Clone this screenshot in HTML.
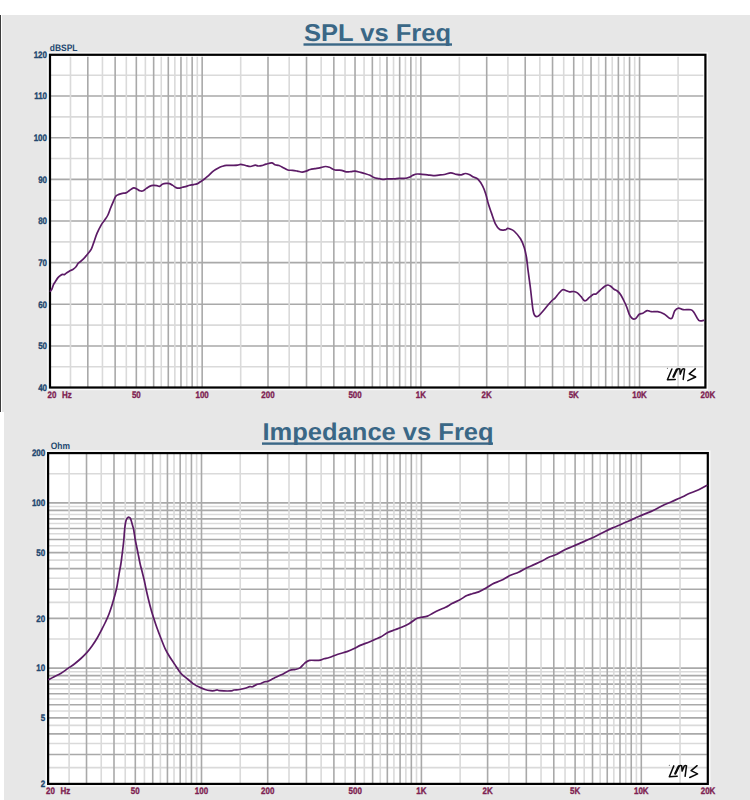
<!DOCTYPE html>
<html><head><meta charset="utf-8">
<style>
html,body{margin:0;padding:0;background:#fff;}
body{width:750px;height:800px;position:relative;overflow:hidden;font-family:"Liberation Sans",sans-serif;}
.bg1{position:absolute;left:2px;top:15px;width:748px;height:397px;background:#e7e7e7;}
.bl{position:absolute;left:0;top:15px;width:1.2px;height:397px;background:#3d3d3d;}
.bg2{position:absolute;left:4px;top:412px;width:746px;height:388px;background:#e7e7e7;}
svg{position:absolute;left:0;top:0;}
.t{font-family:"Liberation Sans",sans-serif;font-weight:bold;text-rendering:geometricPrecision;}
</style></head><body>
<div class="bg1"></div><div class="bl"></div><div class="bg2"></div>
<svg width="750" height="800" viewBox="0 0 750 800">
<rect x="48" y="52.8" width="659.4" height="336.7" fill="none" stroke="#fafafa" stroke-width="1.3"/>
<rect x="50" y="54.8" width="655.4" height="332.7" fill="#fff"/>
<line x1="50" x2="703.4" y1="366.77" y2="366.77" stroke="#dadada" stroke-width="1.6"/>
<line x1="50" x2="703.4" y1="345.95" y2="345.95" stroke="#a9a9a9" stroke-width="1.6"/>
<line x1="50" x2="703.4" y1="325.12" y2="325.12" stroke="#dadada" stroke-width="1.6"/>
<line x1="50" x2="703.4" y1="304.3" y2="304.3" stroke="#a9a9a9" stroke-width="1.6"/>
<line x1="50" x2="703.4" y1="283.47" y2="283.47" stroke="#dadada" stroke-width="1.6"/>
<line x1="50" x2="703.4" y1="262.65" y2="262.65" stroke="#a9a9a9" stroke-width="1.6"/>
<line x1="50" x2="703.4" y1="241.83" y2="241.83" stroke="#dadada" stroke-width="1.6"/>
<line x1="50" x2="703.4" y1="221" y2="221" stroke="#a9a9a9" stroke-width="1.6"/>
<line x1="50" x2="703.4" y1="200.18" y2="200.18" stroke="#dadada" stroke-width="1.6"/>
<line x1="50" x2="703.4" y1="179.35" y2="179.35" stroke="#a9a9a9" stroke-width="1.6"/>
<line x1="50" x2="703.4" y1="158.53" y2="158.53" stroke="#dadada" stroke-width="1.6"/>
<line x1="50" x2="703.4" y1="137.7" y2="137.7" stroke="#a9a9a9" stroke-width="1.6"/>
<line x1="50" x2="703.4" y1="116.88" y2="116.88" stroke="#dadada" stroke-width="1.6"/>
<line x1="50" x2="703.4" y1="96.05" y2="96.05" stroke="#a9a9a9" stroke-width="1.6"/>
<line x1="50" x2="703.4" y1="75.22" y2="75.22" stroke="#dadada" stroke-width="1.6"/>
<line x1="70.49" x2="70.49" y1="56.8" y2="387.5" stroke="#dadada" stroke-width="1.6"/>
<line x1="102.45" x2="102.45" y1="56.8" y2="387.5" stroke="#dadada" stroke-width="1.6"/>
<line x1="126.32" x2="126.32" y1="56.8" y2="387.5" stroke="#dadada" stroke-width="1.6"/>
<line x1="145.38" x2="145.38" y1="56.8" y2="387.5" stroke="#dadada" stroke-width="1.6"/>
<line x1="161.25" x2="161.25" y1="56.8" y2="387.5" stroke="#dadada" stroke-width="1.6"/>
<line x1="174.84" x2="174.84" y1="56.8" y2="387.5" stroke="#dadada" stroke-width="1.6"/>
<line x1="186.73" x2="186.73" y1="56.8" y2="387.5" stroke="#dadada" stroke-width="1.6"/>
<line x1="197.29" x2="197.29" y1="56.8" y2="387.5" stroke="#dadada" stroke-width="1.6"/>
<line x1="240.68" x2="240.68" y1="56.8" y2="387.5" stroke="#dadada" stroke-width="1.6"/>
<line x1="289.19" x2="289.19" y1="56.8" y2="387.5" stroke="#dadada" stroke-width="1.6"/>
<line x1="321.15" x2="321.15" y1="56.8" y2="387.5" stroke="#dadada" stroke-width="1.6"/>
<line x1="345.02" x2="345.02" y1="56.8" y2="387.5" stroke="#dadada" stroke-width="1.6"/>
<line x1="364.08" x2="364.08" y1="56.8" y2="387.5" stroke="#dadada" stroke-width="1.6"/>
<line x1="379.95" x2="379.95" y1="56.8" y2="387.5" stroke="#dadada" stroke-width="1.6"/>
<line x1="393.54" x2="393.54" y1="56.8" y2="387.5" stroke="#dadada" stroke-width="1.6"/>
<line x1="405.43" x2="405.43" y1="56.8" y2="387.5" stroke="#dadada" stroke-width="1.6"/>
<line x1="415.99" x2="415.99" y1="56.8" y2="387.5" stroke="#dadada" stroke-width="1.6"/>
<line x1="459.38" x2="459.38" y1="56.8" y2="387.5" stroke="#dadada" stroke-width="1.6"/>
<line x1="507.89" x2="507.89" y1="56.8" y2="387.5" stroke="#dadada" stroke-width="1.6"/>
<line x1="539.85" x2="539.85" y1="56.8" y2="387.5" stroke="#dadada" stroke-width="1.6"/>
<line x1="563.72" x2="563.72" y1="56.8" y2="387.5" stroke="#dadada" stroke-width="1.6"/>
<line x1="582.78" x2="582.78" y1="56.8" y2="387.5" stroke="#dadada" stroke-width="1.6"/>
<line x1="598.65" x2="598.65" y1="56.8" y2="387.5" stroke="#dadada" stroke-width="1.6"/>
<line x1="612.24" x2="612.24" y1="56.8" y2="387.5" stroke="#dadada" stroke-width="1.6"/>
<line x1="624.13" x2="624.13" y1="56.8" y2="387.5" stroke="#dadada" stroke-width="1.6"/>
<line x1="634.69" x2="634.69" y1="56.8" y2="387.5" stroke="#dadada" stroke-width="1.6"/>
<line x1="678.08" x2="678.08" y1="56.8" y2="387.5" stroke="#dadada" stroke-width="1.6"/>
<line x1="87.81" x2="87.81" y1="56.8" y2="387.5" stroke="#a9a9a9" stroke-width="1.6"/>
<line x1="115.14" x2="115.14" y1="56.8" y2="387.5" stroke="#a9a9a9" stroke-width="1.6"/>
<line x1="136.33" x2="136.33" y1="56.8" y2="387.5" stroke="#a9a9a9" stroke-width="1.6"/>
<line x1="153.65" x2="153.65" y1="56.8" y2="387.5" stroke="#a9a9a9" stroke-width="1.6"/>
<line x1="168.29" x2="168.29" y1="56.8" y2="387.5" stroke="#a9a9a9" stroke-width="1.6"/>
<line x1="180.97" x2="180.97" y1="56.8" y2="387.5" stroke="#a9a9a9" stroke-width="1.6"/>
<line x1="192.16" x2="192.16" y1="56.8" y2="387.5" stroke="#a9a9a9" stroke-width="1.6"/>
<line x1="202.16" x2="202.16" y1="56.8" y2="387.5" stroke="#a9a9a9" stroke-width="1.6"/>
<line x1="268" x2="268" y1="56.8" y2="387.5" stroke="#a9a9a9" stroke-width="1.6"/>
<line x1="306.51" x2="306.51" y1="56.8" y2="387.5" stroke="#a9a9a9" stroke-width="1.6"/>
<line x1="333.84" x2="333.84" y1="56.8" y2="387.5" stroke="#a9a9a9" stroke-width="1.6"/>
<line x1="355.03" x2="355.03" y1="56.8" y2="387.5" stroke="#a9a9a9" stroke-width="1.6"/>
<line x1="372.35" x2="372.35" y1="56.8" y2="387.5" stroke="#a9a9a9" stroke-width="1.6"/>
<line x1="386.99" x2="386.99" y1="56.8" y2="387.5" stroke="#a9a9a9" stroke-width="1.6"/>
<line x1="399.67" x2="399.67" y1="56.8" y2="387.5" stroke="#a9a9a9" stroke-width="1.6"/>
<line x1="410.86" x2="410.86" y1="56.8" y2="387.5" stroke="#a9a9a9" stroke-width="1.6"/>
<line x1="420.86" x2="420.86" y1="56.8" y2="387.5" stroke="#a9a9a9" stroke-width="1.6"/>
<line x1="486.7" x2="486.7" y1="56.8" y2="387.5" stroke="#a9a9a9" stroke-width="1.6"/>
<line x1="525.21" x2="525.21" y1="56.8" y2="387.5" stroke="#a9a9a9" stroke-width="1.6"/>
<line x1="552.54" x2="552.54" y1="56.8" y2="387.5" stroke="#a9a9a9" stroke-width="1.6"/>
<line x1="573.73" x2="573.73" y1="56.8" y2="387.5" stroke="#a9a9a9" stroke-width="1.6"/>
<line x1="591.05" x2="591.05" y1="56.8" y2="387.5" stroke="#a9a9a9" stroke-width="1.6"/>
<line x1="605.69" x2="605.69" y1="56.8" y2="387.5" stroke="#a9a9a9" stroke-width="1.6"/>
<line x1="618.37" x2="618.37" y1="56.8" y2="387.5" stroke="#a9a9a9" stroke-width="1.6"/>
<line x1="629.56" x2="629.56" y1="56.8" y2="387.5" stroke="#a9a9a9" stroke-width="1.6"/>
<line x1="639.56" x2="639.56" y1="56.8" y2="387.5" stroke="#a9a9a9" stroke-width="1.6"/>
<rect x="50" y="54.8" width="655.4" height="332.7" fill="none" stroke="#000" stroke-width="2.2"/>
<rect x="46.1" y="451.1" width="663.6999999999999" height="334.79999999999995" fill="none" stroke="#fafafa" stroke-width="1.3"/>
<rect x="48.1" y="453.1" width="659.6999999999999" height="330.79999999999995" fill="#fff"/>
<line x1="48.1" x2="706.8" y1="767.59" y2="767.59" stroke="#dadada" stroke-width="1.6"/>
<line x1="48.1" x2="706.8" y1="743.44" y2="743.44" stroke="#dadada" stroke-width="1.6"/>
<line x1="48.1" x2="706.8" y1="725.4" y2="725.4" stroke="#dadada" stroke-width="1.6"/>
<line x1="48.1" x2="706.8" y1="711" y2="711" stroke="#dadada" stroke-width="1.6"/>
<line x1="48.1" x2="706.8" y1="699.01" y2="699.01" stroke="#dadada" stroke-width="1.6"/>
<line x1="48.1" x2="706.8" y1="688.74" y2="688.74" stroke="#dadada" stroke-width="1.6"/>
<line x1="48.1" x2="706.8" y1="679.76" y2="679.76" stroke="#dadada" stroke-width="1.6"/>
<line x1="48.1" x2="706.8" y1="671.78" y2="671.78" stroke="#dadada" stroke-width="1.6"/>
<line x1="48.1" x2="706.8" y1="639" y2="639" stroke="#dadada" stroke-width="1.6"/>
<line x1="48.1" x2="706.8" y1="602.34" y2="602.34" stroke="#dadada" stroke-width="1.6"/>
<line x1="48.1" x2="706.8" y1="578.19" y2="578.19" stroke="#dadada" stroke-width="1.6"/>
<line x1="48.1" x2="706.8" y1="560.15" y2="560.15" stroke="#dadada" stroke-width="1.6"/>
<line x1="48.1" x2="706.8" y1="545.75" y2="545.75" stroke="#dadada" stroke-width="1.6"/>
<line x1="48.1" x2="706.8" y1="533.76" y2="533.76" stroke="#dadada" stroke-width="1.6"/>
<line x1="48.1" x2="706.8" y1="523.49" y2="523.49" stroke="#dadada" stroke-width="1.6"/>
<line x1="48.1" x2="706.8" y1="514.51" y2="514.51" stroke="#dadada" stroke-width="1.6"/>
<line x1="48.1" x2="706.8" y1="506.53" y2="506.53" stroke="#dadada" stroke-width="1.6"/>
<line x1="48.1" x2="706.8" y1="473.75" y2="473.75" stroke="#dadada" stroke-width="1.6"/>
<line x1="48.1" x2="706.8" y1="754.5" y2="754.5" stroke="#a9a9a9" stroke-width="1.6"/>
<line x1="48.1" x2="706.8" y1="733.85" y2="733.85" stroke="#a9a9a9" stroke-width="1.6"/>
<line x1="48.1" x2="706.8" y1="717.84" y2="717.84" stroke="#a9a9a9" stroke-width="1.6"/>
<line x1="48.1" x2="706.8" y1="704.76" y2="704.76" stroke="#a9a9a9" stroke-width="1.6"/>
<line x1="48.1" x2="706.8" y1="693.69" y2="693.69" stroke="#a9a9a9" stroke-width="1.6"/>
<line x1="48.1" x2="706.8" y1="684.11" y2="684.11" stroke="#a9a9a9" stroke-width="1.6"/>
<line x1="48.1" x2="706.8" y1="675.66" y2="675.66" stroke="#a9a9a9" stroke-width="1.6"/>
<line x1="48.1" x2="706.8" y1="668.1" y2="668.1" stroke="#a9a9a9" stroke-width="1.6"/>
<line x1="48.1" x2="706.8" y1="618.35" y2="618.35" stroke="#a9a9a9" stroke-width="1.6"/>
<line x1="48.1" x2="706.8" y1="589.25" y2="589.25" stroke="#a9a9a9" stroke-width="1.6"/>
<line x1="48.1" x2="706.8" y1="568.6" y2="568.6" stroke="#a9a9a9" stroke-width="1.6"/>
<line x1="48.1" x2="706.8" y1="552.59" y2="552.59" stroke="#a9a9a9" stroke-width="1.6"/>
<line x1="48.1" x2="706.8" y1="539.51" y2="539.51" stroke="#a9a9a9" stroke-width="1.6"/>
<line x1="48.1" x2="706.8" y1="528.44" y2="528.44" stroke="#a9a9a9" stroke-width="1.6"/>
<line x1="48.1" x2="706.8" y1="518.86" y2="518.86" stroke="#a9a9a9" stroke-width="1.6"/>
<line x1="48.1" x2="706.8" y1="510.41" y2="510.41" stroke="#a9a9a9" stroke-width="1.6"/>
<line x1="48.1" x2="706.8" y1="502.85" y2="502.85" stroke="#a9a9a9" stroke-width="1.6"/>
<line x1="69.11" x2="69.11" y1="454.1" y2="783.9" stroke="#dadada" stroke-width="1.6"/>
<line x1="101.24" x2="101.24" y1="454.1" y2="783.9" stroke="#dadada" stroke-width="1.6"/>
<line x1="125.24" x2="125.24" y1="454.1" y2="783.9" stroke="#dadada" stroke-width="1.6"/>
<line x1="144.41" x2="144.41" y1="454.1" y2="783.9" stroke="#dadada" stroke-width="1.6"/>
<line x1="160.36" x2="160.36" y1="454.1" y2="783.9" stroke="#dadada" stroke-width="1.6"/>
<line x1="174.03" x2="174.03" y1="454.1" y2="783.9" stroke="#dadada" stroke-width="1.6"/>
<line x1="185.98" x2="185.98" y1="454.1" y2="783.9" stroke="#dadada" stroke-width="1.6"/>
<line x1="196.6" x2="196.6" y1="454.1" y2="783.9" stroke="#dadada" stroke-width="1.6"/>
<line x1="240.23" x2="240.23" y1="454.1" y2="783.9" stroke="#dadada" stroke-width="1.6"/>
<line x1="289.01" x2="289.01" y1="454.1" y2="783.9" stroke="#dadada" stroke-width="1.6"/>
<line x1="321.14" x2="321.14" y1="454.1" y2="783.9" stroke="#dadada" stroke-width="1.6"/>
<line x1="345.14" x2="345.14" y1="454.1" y2="783.9" stroke="#dadada" stroke-width="1.6"/>
<line x1="364.31" x2="364.31" y1="454.1" y2="783.9" stroke="#dadada" stroke-width="1.6"/>
<line x1="380.26" x2="380.26" y1="454.1" y2="783.9" stroke="#dadada" stroke-width="1.6"/>
<line x1="393.93" x2="393.93" y1="454.1" y2="783.9" stroke="#dadada" stroke-width="1.6"/>
<line x1="405.88" x2="405.88" y1="454.1" y2="783.9" stroke="#dadada" stroke-width="1.6"/>
<line x1="416.5" x2="416.5" y1="454.1" y2="783.9" stroke="#dadada" stroke-width="1.6"/>
<line x1="460.13" x2="460.13" y1="454.1" y2="783.9" stroke="#dadada" stroke-width="1.6"/>
<line x1="508.91" x2="508.91" y1="454.1" y2="783.9" stroke="#dadada" stroke-width="1.6"/>
<line x1="541.04" x2="541.04" y1="454.1" y2="783.9" stroke="#dadada" stroke-width="1.6"/>
<line x1="565.04" x2="565.04" y1="454.1" y2="783.9" stroke="#dadada" stroke-width="1.6"/>
<line x1="584.21" x2="584.21" y1="454.1" y2="783.9" stroke="#dadada" stroke-width="1.6"/>
<line x1="600.16" x2="600.16" y1="454.1" y2="783.9" stroke="#dadada" stroke-width="1.6"/>
<line x1="613.83" x2="613.83" y1="454.1" y2="783.9" stroke="#dadada" stroke-width="1.6"/>
<line x1="625.78" x2="625.78" y1="454.1" y2="783.9" stroke="#dadada" stroke-width="1.6"/>
<line x1="636.4" x2="636.4" y1="454.1" y2="783.9" stroke="#dadada" stroke-width="1.6"/>
<line x1="680.03" x2="680.03" y1="454.1" y2="783.9" stroke="#dadada" stroke-width="1.6"/>
<line x1="86.52" x2="86.52" y1="454.1" y2="783.9" stroke="#a9a9a9" stroke-width="1.6"/>
<line x1="114" x2="114" y1="454.1" y2="783.9" stroke="#a9a9a9" stroke-width="1.6"/>
<line x1="135.31" x2="135.31" y1="454.1" y2="783.9" stroke="#a9a9a9" stroke-width="1.6"/>
<line x1="152.72" x2="152.72" y1="454.1" y2="783.9" stroke="#a9a9a9" stroke-width="1.6"/>
<line x1="167.44" x2="167.44" y1="454.1" y2="783.9" stroke="#a9a9a9" stroke-width="1.6"/>
<line x1="180.19" x2="180.19" y1="454.1" y2="783.9" stroke="#a9a9a9" stroke-width="1.6"/>
<line x1="191.44" x2="191.44" y1="454.1" y2="783.9" stroke="#a9a9a9" stroke-width="1.6"/>
<line x1="201.5" x2="201.5" y1="454.1" y2="783.9" stroke="#a9a9a9" stroke-width="1.6"/>
<line x1="267.7" x2="267.7" y1="454.1" y2="783.9" stroke="#a9a9a9" stroke-width="1.6"/>
<line x1="306.42" x2="306.42" y1="454.1" y2="783.9" stroke="#a9a9a9" stroke-width="1.6"/>
<line x1="333.9" x2="333.9" y1="454.1" y2="783.9" stroke="#a9a9a9" stroke-width="1.6"/>
<line x1="355.21" x2="355.21" y1="454.1" y2="783.9" stroke="#a9a9a9" stroke-width="1.6"/>
<line x1="372.62" x2="372.62" y1="454.1" y2="783.9" stroke="#a9a9a9" stroke-width="1.6"/>
<line x1="387.34" x2="387.34" y1="454.1" y2="783.9" stroke="#a9a9a9" stroke-width="1.6"/>
<line x1="400.09" x2="400.09" y1="454.1" y2="783.9" stroke="#a9a9a9" stroke-width="1.6"/>
<line x1="411.34" x2="411.34" y1="454.1" y2="783.9" stroke="#a9a9a9" stroke-width="1.6"/>
<line x1="421.4" x2="421.4" y1="454.1" y2="783.9" stroke="#a9a9a9" stroke-width="1.6"/>
<line x1="487.6" x2="487.6" y1="454.1" y2="783.9" stroke="#a9a9a9" stroke-width="1.6"/>
<line x1="526.32" x2="526.32" y1="454.1" y2="783.9" stroke="#a9a9a9" stroke-width="1.6"/>
<line x1="553.8" x2="553.8" y1="454.1" y2="783.9" stroke="#a9a9a9" stroke-width="1.6"/>
<line x1="575.11" x2="575.11" y1="454.1" y2="783.9" stroke="#a9a9a9" stroke-width="1.6"/>
<line x1="592.52" x2="592.52" y1="454.1" y2="783.9" stroke="#a9a9a9" stroke-width="1.6"/>
<line x1="607.24" x2="607.24" y1="454.1" y2="783.9" stroke="#a9a9a9" stroke-width="1.6"/>
<line x1="619.99" x2="619.99" y1="454.1" y2="783.9" stroke="#a9a9a9" stroke-width="1.6"/>
<line x1="631.24" x2="631.24" y1="454.1" y2="783.9" stroke="#a9a9a9" stroke-width="1.6"/>
<line x1="641.3" x2="641.3" y1="454.1" y2="783.9" stroke="#a9a9a9" stroke-width="1.6"/>
<rect x="48.1" y="453.1" width="659.6999999999999" height="330.79999999999995" fill="none" stroke="#000" stroke-width="2.2"/>
<path d="M50.4,291.2 C50.67,290.8 51.47,289.93 52,288.8 C52.53,287.67 53,285.67 53.6,284.4 C54.2,283.13 54.87,282.33 55.6,281.2 C56.33,280.07 57.13,278.6 58,277.6 C58.87,276.6 60,275.73 60.8,275.2 C61.6,274.67 62.2,274.5 62.8,274.4 C63.4,274.3 63.73,274.87 64.4,274.6 C65.07,274.33 65.87,273.43 66.8,272.8 C67.73,272.17 68.93,271.4 70,270.8 C71.07,270.2 72.2,269.87 73.2,269.2 C74.2,268.53 75.2,267.73 76,266.8 C76.8,265.87 77.4,264.37 78,263.6 C78.6,262.83 78.73,262.93 79.6,262.2 C80.47,261.47 81.87,260.57 83.2,259.2 C84.53,257.83 86.25,255.68 87.6,254 C88.95,252.32 90.25,251.08 91.3,249.1 C92.35,247.12 92.95,244.72 93.9,242.1 C94.85,239.48 95.75,236.32 97,233.4 C98.25,230.48 100.08,226.87 101.4,224.6 C102.72,222.33 103.82,221.4 104.9,219.8 C105.98,218.2 106.95,216.97 107.9,215 C108.85,213.03 109.72,210.18 110.6,208 C111.48,205.82 112.33,203.87 113.2,201.9 C114.07,199.93 114.85,197.45 115.8,196.2 C116.75,194.95 117.8,194.88 118.9,194.4 C120,193.92 121.23,193.55 122.4,193.3 C123.57,193.05 124.73,193.37 125.9,192.9 C127.07,192.43 128.1,191.33 129.4,190.5 C130.7,189.67 132.4,188.12 133.7,187.9 C135,187.68 136.15,188.72 137.2,189.2 C138.25,189.68 139,190.53 140,190.8 C141,191.07 142.13,191.2 143.2,190.8 C144.27,190.4 145.33,189.13 146.4,188.4 C147.47,187.67 148.47,186.9 149.6,186.4 C150.73,185.9 152,185.53 153.2,185.4 C154.4,185.27 155.73,185.43 156.8,185.6 C157.87,185.77 158.6,186.67 159.6,186.4 C160.6,186.13 161.67,184.5 162.8,184 C163.93,183.5 165.27,183.47 166.4,183.4 C167.53,183.33 168.53,183.27 169.6,183.6 C170.67,183.93 171.73,184.73 172.8,185.4 C173.87,186.07 174.93,187.13 176,187.6 C177.07,188.07 178.13,188.27 179.2,188.2 C180.27,188.13 181.2,187.5 182.4,187.2 C183.6,186.9 185.2,186.73 186.4,186.4 C187.6,186.07 188.4,185.5 189.6,185.2 C190.8,184.9 192.27,184.87 193.6,184.6 C194.93,184.33 196.53,184.03 197.6,183.6 C198.67,183.17 198.8,182.8 200,182 C201.2,181.2 203.33,179.92 204.8,178.8 C206.27,177.68 207.33,176.63 208.8,175.3 C210.27,173.97 212,172.03 213.6,170.8 C215.2,169.57 216.93,168.65 218.4,167.9 C219.87,167.15 221.07,166.72 222.4,166.3 C223.73,165.88 224.67,165.55 226.4,165.4 C228.13,165.25 230.93,165.43 232.8,165.4 C234.67,165.37 236.27,165.37 237.6,165.2 C238.93,165.03 239.47,164.35 240.8,164.4 C242.13,164.45 244,165.15 245.6,165.5 C247.2,165.85 248.8,166.55 250.4,166.5 C252,166.45 253.9,165.28 255.2,165.2 C256.5,165.12 257.17,165.92 258.2,166 C259.23,166.08 260.07,166.02 261.4,165.7 C262.73,165.38 264.47,164.58 266.2,164.1 C267.93,163.62 270.33,162.7 271.8,162.8 C273.27,162.9 273.8,164.25 275,164.7 C276.2,165.15 277.53,164.97 279,165.5 C280.47,166.03 282.33,167.15 283.8,167.9 C285.27,168.65 286.33,169.6 287.8,170 C289.27,170.4 291,170.12 292.6,170.3 C294.2,170.48 295.8,170.8 297.4,171.1 C299,171.4 300.73,172.1 302.2,172.1 C303.67,172.1 304.87,171.53 306.2,171.1 C307.53,170.67 308.73,169.9 310.2,169.5 C311.67,169.1 313.4,168.97 315,168.7 C316.6,168.43 318.07,168.27 319.8,167.9 C321.53,167.53 323.8,166.6 325.4,166.5 C327,166.4 327.8,166.72 329.4,167.3 C331,167.88 333,169.5 335,170 C337,170.5 339.53,169.98 341.4,170.3 C343.27,170.62 344.6,171.68 346.2,171.9 C347.8,172.12 349.53,171.73 351,171.6 C352.47,171.47 353.4,170.97 355,171.1 C356.6,171.23 358.87,171.97 360.6,172.4 C362.33,172.83 363.83,173.22 365.4,173.7 C366.97,174.18 368.57,174.67 370,175.3 C371.43,175.93 372.67,176.97 374,177.5 C375.33,178.03 376.53,178.2 378,178.5 C379.47,178.8 381.2,179.25 382.8,179.3 C384.4,179.35 385.73,178.88 387.6,178.8 C389.47,178.72 392.13,178.88 394,178.8 C395.87,178.72 396.93,178.38 398.8,178.3 C400.67,178.22 403.47,178.48 405.2,178.3 C406.93,178.12 407.87,177.73 409.2,177.2 C410.53,176.67 411.87,175.63 413.2,175.1 C414.53,174.57 415.73,174.13 417.2,174 C418.67,173.87 420.27,174.17 422,174.3 C423.73,174.43 425.73,174.58 427.6,174.8 C429.47,175.02 431.33,175.55 433.2,175.6 C435.07,175.65 436.93,175.28 438.8,175.1 C440.67,174.92 442.4,174.87 444.4,174.5 C446.4,174.13 448.8,172.93 450.8,172.9 C452.8,172.87 454.67,173.98 456.4,174.3 C458.13,174.62 459.73,174.93 461.2,174.8 C462.67,174.67 463.87,173.55 465.2,173.5 C466.53,173.45 467.82,173.92 469.2,174.5 C470.58,175.08 472.05,176.22 473.5,177 C474.95,177.78 476.37,177.67 477.9,179.2 C479.43,180.73 481.39,183.72 482.7,186.2 C484.01,188.68 484.8,191.12 485.75,194.1 C486.7,197.08 487.46,200.97 488.4,204.1 C489.34,207.23 490.23,209.62 491.4,212.9 C492.57,216.18 494.01,221.03 495.4,223.8 C496.79,226.57 498.15,228.48 499.75,229.5 C501.35,230.52 503.69,230.08 505,229.9 C506.31,229.72 506.77,228.55 507.6,228.4 C508.43,228.25 508.89,228.53 510,229 C511.11,229.47 512.5,229.62 514.25,231.25 C516,232.88 518.83,236.04 520.5,238.75 C522.17,241.46 523.25,244.38 524.25,247.5 C525.25,250.62 525.88,253.75 526.5,257.5 C527.12,261.25 527.33,264.79 528,270 C528.67,275.21 529.67,282.08 530.5,288.75 C531.33,295.42 532.27,305.52 533,310 C533.73,314.48 534.07,314.56 534.9,315.6 C535.73,316.64 536.86,316.77 538,316.25 C539.14,315.73 540.08,314.38 541.75,312.5 C543.42,310.62 546.29,307 548,305 C549.71,303 550.83,301.65 552,300.5 C553.17,299.35 553.88,299.27 555,298.1 C556.12,296.93 557.45,294.9 558.7,293.5 C559.95,292.1 561.33,290.2 562.5,289.7 C563.67,289.2 564.55,290.13 565.7,290.5 C566.85,290.87 568.07,291.73 569.4,291.9 C570.73,292.07 572.37,291.33 573.7,291.5 C575.03,291.67 576.17,292.03 577.4,292.9 C578.63,293.77 579.85,295.37 581.1,296.7 C582.35,298.03 583.57,300.73 584.9,300.9 C586.23,301.07 587.68,298.8 589.1,297.7 C590.52,296.6 592.23,294.92 593.4,294.3 C594.57,293.68 595,294.67 596.1,294 C597.2,293.33 598.9,291.3 600,290.3 C601.1,289.3 601.82,288.72 602.7,288 C603.58,287.28 604.42,286.5 605.3,286 C606.18,285.5 607.1,284.95 608,285 C608.9,285.05 609.7,285.58 610.7,286.3 C611.7,287.02 612.9,288.52 614,289.3 C615.1,290.08 616.18,290.1 617.3,291 C618.42,291.9 619.58,293.03 620.7,294.7 C621.82,296.37 623,298.95 624,301 C625,303.05 625.82,304.78 626.7,307 C627.58,309.22 628.42,312.42 629.3,314.3 C630.18,316.18 631,317.57 632,318.3 C633,319.03 634.08,319.37 635.3,318.7 C636.52,318.03 638.05,315.2 639.3,314.3 C640.55,313.4 641.5,313.92 642.8,313.3 C644.1,312.68 645.68,310.87 647.1,310.6 C648.52,310.33 649.53,311.52 651.3,311.7 C653.07,311.88 655.57,311.32 657.7,311.7 C659.83,312.08 662.13,312.9 664.1,314 C666.07,315.1 668.17,317.65 669.5,318.3 C670.83,318.95 671.22,319.15 672.1,317.9 C672.98,316.65 673.73,312.43 674.8,310.8 C675.87,309.17 677.08,308.28 678.5,308.1 C679.92,307.92 681.25,309.43 683.3,309.7 C685.35,309.97 689.02,309.25 690.8,309.7 C692.58,310.15 692.67,310.62 694,312.4 C695.33,314.18 697.2,319.07 698.8,320.4 C700.4,321.73 702.8,320.4 703.6,320.4" fill="none" stroke="#5c1b66" stroke-width="1.7" stroke-linejoin="round" stroke-linecap="round"/>
<path d="M48.9,679.5 C49.7,679.07 51.73,677.92 53.7,676.9 C55.67,675.88 58.37,674.78 60.7,673.4 C63.03,672.02 65.37,670.22 67.7,668.6 C70.03,666.98 72.5,665.38 74.7,663.7 C76.9,662.02 78.85,660.38 80.9,658.5 C82.95,656.62 85.12,654.52 87,652.4 C88.88,650.28 90.45,648.28 92.2,645.8 C93.95,643.32 95.87,640.3 97.5,637.5 C99.13,634.7 100.67,631.58 102,629 C103.33,626.42 104.33,624.5 105.5,622 C106.67,619.5 107.83,617.08 109,614 C110.17,610.92 111.27,607.62 112.5,603.5 C113.73,599.38 115.5,593 116.4,589.25 C117.3,585.5 117.4,583.88 117.9,581 C118.4,578.12 118.9,574.88 119.4,572 C119.9,569.12 120.47,566.5 120.9,563.75 C121.33,561 121.63,558.38 122,555.5 C122.37,552.62 122.78,549.25 123.1,546.5 C123.42,543.75 123.65,541.75 123.9,539 C124.15,536.25 124.35,532.58 124.6,530 C124.85,527.42 125.1,525.25 125.4,523.5 C125.7,521.75 126.02,520.48 126.4,519.5 C126.78,518.52 127.27,517.98 127.7,517.6 C128.13,517.22 128.55,517.08 129,517.2 C129.45,517.32 129.97,517.5 130.4,518.3 C130.83,519.1 131.22,520.72 131.6,522 C131.98,523.28 132.34,524.67 132.7,526 C133.06,527.33 133.32,527.71 133.75,530 C134.18,532.29 134.69,536.62 135.25,539.75 C135.81,542.88 136.54,546 137.1,548.75 C137.66,551.5 138.1,553.75 138.6,556.25 C139.1,558.75 139.53,561.25 140.1,563.75 C140.67,566.25 141.31,568.5 142,571.25 C142.69,574 143.57,577.25 144.25,580.25 C144.93,583.25 145.38,585.96 146.1,589.25 C146.82,592.54 147.75,596.54 148.6,600 C149.45,603.46 150.25,606.67 151.2,610 C152.15,613.33 153.33,617 154.3,620 C155.27,623 155.92,625 157,628 C158.08,631 159.45,634.57 160.8,638 C162.15,641.43 163.65,645.52 165.1,648.6 C166.55,651.68 167.89,653.87 169.5,656.5 C171.11,659.13 173.15,662 174.75,664.4 C176.35,666.8 177.79,669.13 179.1,670.9 C180.41,672.67 181.13,673.61 182.6,675 C184.07,676.39 186.15,677.82 187.9,679.25 C189.65,680.68 191.22,682.29 193.1,683.6 C194.98,684.91 197.22,686.12 199.2,687.1 C201.18,688.08 203.1,688.9 205,689.5 C206.9,690.1 209.05,690.5 210.6,690.7 C212.15,690.9 213.22,690.83 214.3,690.7 C215.38,690.57 216.17,689.9 217.1,689.9 C218.03,689.9 217.57,690.53 219.9,690.7 C222.23,690.87 228.77,691.02 231.1,690.9 C233.43,690.78 232.5,690.23 233.9,690 C235.3,689.77 237.63,689.8 239.5,689.5 C241.37,689.2 243.38,688.67 245.1,688.2 C246.82,687.73 248.55,686.95 249.8,686.7 C251.05,686.45 251.5,687.05 252.6,686.7 C253.7,686.35 255,685.13 256.4,684.6 C257.8,684.07 259.6,683.97 261,683.5 C262.4,683.03 263.63,682.18 264.8,681.8 C265.97,681.42 266.48,681.8 268,681.2 C269.52,680.6 271.68,679.27 273.9,678.2 C276.12,677.13 278.63,676.12 281.3,674.8 C283.97,673.48 287.58,671.18 289.9,670.3 C292.22,669.42 293.52,669.9 295.2,669.5 C296.88,669.1 298.4,668.97 300,667.9 C301.6,666.83 303.2,664.35 304.8,663.1 C306.4,661.85 307.28,660.85 309.6,660.4 C311.92,659.95 316.3,660.67 318.7,660.4 C321.1,660.13 322.23,659.28 324,658.8 C325.77,658.32 326.98,658.25 329.3,657.5 C331.62,656.75 334.95,655.28 337.9,654.3 C340.85,653.32 344.28,652.55 347,651.6 C349.72,650.65 352,649.63 354.2,648.6 C356.4,647.57 357.6,646.53 360.2,645.4 C362.8,644.27 367.2,642.87 369.8,641.8 C372.4,640.73 374,639.8 375.8,639 C377.6,638.2 378.6,638.07 380.6,637 C382.6,635.93 385.4,633.8 387.8,632.6 C390.2,631.4 392.6,630.73 395,629.8 C397.4,628.87 399.8,628.07 402.2,627 C404.6,625.93 407,624.8 409.4,623.4 C411.8,622 414.83,619.58 416.6,618.6 C418.37,617.62 418.18,617.92 420,617.5 C421.82,617.08 425.37,616.82 427.5,616.1 C429.63,615.38 430.85,614.22 432.8,613.2 C434.75,612.18 437.07,610.98 439.2,610 C441.33,609.02 443.47,608.37 445.6,607.3 C447.73,606.23 449.68,604.83 452,603.6 C454.32,602.37 457.02,601.23 459.5,599.9 C461.98,598.57 464.77,596.63 466.9,595.6 C469.03,594.57 470.33,594.32 472.3,593.7 C474.27,593.08 476.4,592.83 478.7,591.9 C481,590.97 483.8,589.43 486.1,588.1 C488.4,586.77 489.95,585.2 492.5,583.9 C495.05,582.6 498.5,581.7 501.4,580.3 C504.3,578.9 507.05,576.83 509.9,575.5 C512.75,574.17 515.83,573.5 518.5,572.3 C521.17,571.1 523.42,569.53 525.9,568.3 C528.38,567.07 530.73,566.1 533.4,564.9 C536.07,563.7 539.42,562.35 541.9,561.1 C544.38,559.85 545.8,558.55 548.3,557.4 C550.8,556.25 554.05,555.53 556.9,554.2 C559.75,552.87 562.8,550.68 565.4,549.4 C568,548.12 569.95,547.58 572.5,546.5 C575.05,545.42 577.57,544.27 580.7,542.9 C583.83,541.53 587.75,539.97 591.3,538.3 C594.85,536.63 598.43,534.63 602,532.9 C605.57,531.17 609.85,529.17 612.7,527.9 C615.55,526.63 616.43,526.45 619.1,525.3 C621.77,524.15 625.33,522.52 628.7,521 C632.07,519.48 635.63,517.77 639.3,516.2 C642.97,514.63 647.03,513.25 650.7,511.6 C654.37,509.95 657.75,507.98 661.3,506.3 C664.85,504.62 668.43,503.1 672,501.5 C675.57,499.9 680.03,497.95 682.7,496.7 C685.37,495.45 685.33,495.17 688,494 C690.67,492.83 695.58,491.12 698.7,489.7 C701.82,488.28 705.37,486.2 706.7,485.5" fill="none" stroke="#5c1b66" stroke-width="1.7" stroke-linejoin="round" stroke-linecap="round"/>
<g transform="translate(0,0)" fill="none" stroke="#0a0a0a" stroke-width="1.5" stroke-linecap="round" stroke-linejoin="round"><path d="M671.9,369 L667.4,379.8 L675.3,379.4"/><path d="M673.4,376.7 L676.8,369.6" stroke-width="2.3"/><path d="M676.8,369.6 Q678.5,368.2 679.8,368.9 L680.2,374.2 L682.2,369.3 Q683.6,368.2 684.6,369 L683.2,379.4"/><path d="M695.2,368.8 L689.2,373.8 L695.7,377 L687.8,380.6"/><circle cx="667.4" cy="368.3" r="0.5" fill="#333" stroke="none"/></g>
<g transform="translate(1.9,396.9)" fill="none" stroke="#0a0a0a" stroke-width="1.5" stroke-linecap="round" stroke-linejoin="round"><path d="M671.9,369 L667.4,379.8 L675.3,379.4"/><path d="M673.4,376.7 L676.8,369.6" stroke-width="2.3"/><path d="M676.8,369.6 Q678.5,368.2 679.8,368.9 L680.2,374.2 L682.2,369.3 Q683.6,368.2 684.6,369 L683.2,379.4"/><path d="M695.2,368.8 L689.2,373.8 L695.7,377 L687.8,380.6"/><circle cx="667.4" cy="368.3" r="0.5" fill="#333" stroke="none"/></g>
<g transform="translate(304,40.8) scale(1.05,1)"><text class="t" x="0" y="0" font-size="24.3" fill="#3a6786">SPL vs Freq</text></g>
<rect x="303.5" y="43.3" width="148.5" height="2.4" fill="#3a6786"/>
<g transform="translate(262.5,439.5) scale(1.05,1)"><text class="t" x="0" y="0" font-size="24.3" fill="#3a6786">Impedance vs Freq</text></g>
<rect x="262" y="442.4" width="231" height="2.4" fill="#3a6786"/>
<text class="t" transform="translate(47,390.9) scale(0.85,1)" font-size="9.4" fill="#22476f" stroke="#22476f" stroke-width="0.35" text-anchor="end">40</text>
<text class="t" transform="translate(47,349.25) scale(0.85,1)" font-size="9.4" fill="#22476f" stroke="#22476f" stroke-width="0.35" text-anchor="end">50</text>
<text class="t" transform="translate(47,307.6) scale(0.85,1)" font-size="9.4" fill="#22476f" stroke="#22476f" stroke-width="0.35" text-anchor="end">60</text>
<text class="t" transform="translate(47,265.95) scale(0.85,1)" font-size="9.4" fill="#22476f" stroke="#22476f" stroke-width="0.35" text-anchor="end">70</text>
<text class="t" transform="translate(47,224.3) scale(0.85,1)" font-size="9.4" fill="#22476f" stroke="#22476f" stroke-width="0.35" text-anchor="end">80</text>
<text class="t" transform="translate(47,182.65) scale(0.85,1)" font-size="9.4" fill="#22476f" stroke="#22476f" stroke-width="0.35" text-anchor="end">90</text>
<text class="t" transform="translate(47,141) scale(0.85,1)" font-size="9.4" fill="#22476f" stroke="#22476f" stroke-width="0.35" text-anchor="end">100</text>
<text class="t" transform="translate(47,99.35) scale(0.85,1)" font-size="9.4" fill="#22476f" stroke="#22476f" stroke-width="0.35" text-anchor="end">110</text>
<text class="t" transform="translate(47,57.7) scale(0.85,1)" font-size="9.4" fill="#22476f" stroke="#22476f" stroke-width="0.35" text-anchor="end">120</text>
<text class="t" transform="translate(49.8,51) scale(0.9,1)" font-size="9.4" fill="#22476f">dBSPL</text>
<text class="t" transform="translate(45.2,456.4) scale(0.85,1)" font-size="9.4" fill="#22476f" stroke="#22476f" stroke-width="0.35" text-anchor="end">200</text>
<text class="t" transform="translate(45.2,506.15) scale(0.85,1)" font-size="9.4" fill="#22476f" stroke="#22476f" stroke-width="0.35" text-anchor="end">100</text>
<text class="t" transform="translate(45.2,555.89) scale(0.85,1)" font-size="9.4" fill="#22476f" stroke="#22476f" stroke-width="0.35" text-anchor="end">50</text>
<text class="t" transform="translate(45.2,621.65) scale(0.85,1)" font-size="9.4" fill="#22476f" stroke="#22476f" stroke-width="0.35" text-anchor="end">20</text>
<text class="t" transform="translate(45.2,671.4) scale(0.85,1)" font-size="9.4" fill="#22476f" stroke="#22476f" stroke-width="0.35" text-anchor="end">10</text>
<text class="t" transform="translate(45.2,721.14) scale(0.85,1)" font-size="9.4" fill="#22476f" stroke="#22476f" stroke-width="0.35" text-anchor="end">5</text>
<text class="t" transform="translate(45.2,786.9) scale(0.85,1)" font-size="9.4" fill="#22476f" stroke="#22476f" stroke-width="0.35" text-anchor="end">2</text>
<text class="t" transform="translate(50.8,449.2) scale(0.9,1)" font-size="9.4" fill="#22476f">Ohm</text>
<text class="t" transform="translate(136.33,398) scale(0.85,1)" font-size="9.4" fill="#7e1f52" stroke="#7e1f52" stroke-width="0.35" text-anchor="middle">50</text>
<text class="t" transform="translate(135.31,794.3) scale(0.85,1)" font-size="9.4" fill="#7e1f52" stroke="#7e1f52" stroke-width="0.35" text-anchor="middle">50</text>
<text class="t" transform="translate(202.16,398) scale(0.85,1)" font-size="9.4" fill="#7e1f52" stroke="#7e1f52" stroke-width="0.35" text-anchor="middle">100</text>
<text class="t" transform="translate(201.5,794.3) scale(0.85,1)" font-size="9.4" fill="#7e1f52" stroke="#7e1f52" stroke-width="0.35" text-anchor="middle">100</text>
<text class="t" transform="translate(268,398) scale(0.85,1)" font-size="9.4" fill="#7e1f52" stroke="#7e1f52" stroke-width="0.35" text-anchor="middle">200</text>
<text class="t" transform="translate(267.7,794.3) scale(0.85,1)" font-size="9.4" fill="#7e1f52" stroke="#7e1f52" stroke-width="0.35" text-anchor="middle">200</text>
<text class="t" transform="translate(355.03,398) scale(0.85,1)" font-size="9.4" fill="#7e1f52" stroke="#7e1f52" stroke-width="0.35" text-anchor="middle">500</text>
<text class="t" transform="translate(355.21,794.3) scale(0.85,1)" font-size="9.4" fill="#7e1f52" stroke="#7e1f52" stroke-width="0.35" text-anchor="middle">500</text>
<text class="t" transform="translate(420.86,398) scale(0.85,1)" font-size="9.4" fill="#7e1f52" stroke="#7e1f52" stroke-width="0.35" text-anchor="middle">1K</text>
<text class="t" transform="translate(421.4,794.3) scale(0.85,1)" font-size="9.4" fill="#7e1f52" stroke="#7e1f52" stroke-width="0.35" text-anchor="middle">1K</text>
<text class="t" transform="translate(486.7,398) scale(0.85,1)" font-size="9.4" fill="#7e1f52" stroke="#7e1f52" stroke-width="0.35" text-anchor="middle">2K</text>
<text class="t" transform="translate(487.6,794.3) scale(0.85,1)" font-size="9.4" fill="#7e1f52" stroke="#7e1f52" stroke-width="0.35" text-anchor="middle">2K</text>
<text class="t" transform="translate(573.73,398) scale(0.85,1)" font-size="9.4" fill="#7e1f52" stroke="#7e1f52" stroke-width="0.35" text-anchor="middle">5K</text>
<text class="t" transform="translate(575.11,794.3) scale(0.85,1)" font-size="9.4" fill="#7e1f52" stroke="#7e1f52" stroke-width="0.35" text-anchor="middle">5K</text>
<text class="t" transform="translate(639.56,398) scale(0.85,1)" font-size="9.4" fill="#7e1f52" stroke="#7e1f52" stroke-width="0.35" text-anchor="middle">10K</text>
<text class="t" transform="translate(641.3,794.3) scale(0.85,1)" font-size="9.4" fill="#7e1f52" stroke="#7e1f52" stroke-width="0.35" text-anchor="middle">10K</text>
<text class="t" transform="translate(47.5,398) scale(0.85,1)" font-size="9.4" fill="#7e1f52" stroke="#7e1f52" stroke-width="0.35" text-anchor="start">20</text>
<text class="t" transform="translate(62,398) scale(0.85,1)" font-size="9.4" fill="#7e1f52" stroke="#7e1f52" stroke-width="0.35" text-anchor="start">Hz</text>
<text class="t" transform="translate(707.9,398) scale(0.85,1)" font-size="9.4" fill="#7e1f52" stroke="#7e1f52" stroke-width="0.35" text-anchor="middle">20K</text>
<text class="t" transform="translate(46,794.3) scale(0.85,1)" font-size="9.4" fill="#7e1f52" stroke="#7e1f52" stroke-width="0.35" text-anchor="start">20</text>
<text class="t" transform="translate(60.5,794.3) scale(0.85,1)" font-size="9.4" fill="#7e1f52" stroke="#7e1f52" stroke-width="0.35" text-anchor="start">Hz</text>
<text class="t" transform="translate(708,794.3) scale(0.85,1)" font-size="9.4" fill="#7e1f52" stroke="#7e1f52" stroke-width="0.35" text-anchor="middle">20K</text>
</svg>
</body></html>
